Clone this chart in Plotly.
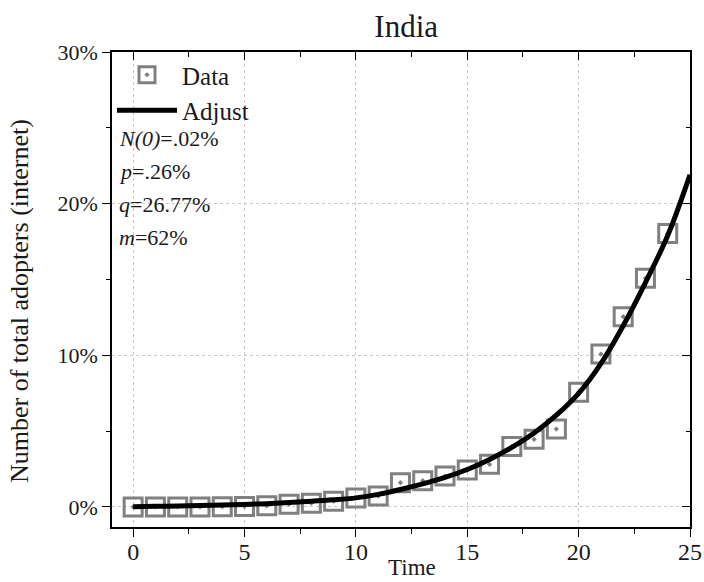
import plotly.graph_objects as go

# Data
time_data = list(range(25))
adopters_data = [0.0, 0.0, 0.0, 0.0, 0.02, 0.03, 0.08, 0.18, 0.25, 0.38, 0.6, 0.72,
                 1.6, 1.73, 2.04, 2.44, 2.81, 3.98, 4.46, 5.14, 7.56, 10.08, 12.55, 15.08, 18.04]

time_fit = list(range(26))
adopters_fit = [0.02, 0.04, 0.07, 0.10, 0.13, 0.17, 0.22, 0.29, 0.37, 0.47, 0.60, 0.83,
                1.15, 1.52, 1.95, 2.47, 3.13, 3.93, 4.88, 6.05, 7.49, 9.45, 11.95, 14.8,
                17.9, 21.9]

x_ticks = [0, 5, 10, 15, 20, 25]
x_minor = [2.5, 7.5, 12.5, 17.5, 22.5]
y_ticks = [0, 10, 20, 30]
y_minor = [5, 15, 25]
y_tick_labels = ["0%", "10%", "20%", "30%"]

params = ["<i>N(0)</i>=.02%", "<i>p</i>=.26%", "<i>q</i>=26.77%", "<i>m</i>=62%"]
y_title = "Number of total adopters (internet)"
x_title = "Time"

FONT = "Liberation Serif, Times New Roman, serif"
TXT = "#1a1a1a"
XR = [-0.95, 25.0]
YR = [-1.32, 30.0]
PLOT_H = 475
PLOT_W = 578

fig = go.Figure()
fig.add_trace(go.Scatter(
    x=time_data, y=adopters_data, mode="markers", name="Data",
    marker=dict(symbol="square-open-dot", size=18, color="#808080",
                line=dict(width=3, color="#808080")),
))
fig.add_trace(go.Scatter(
    x=time_fit, y=adopters_fit, mode="lines", name="Adjust",
    line=dict(color="black", width=5, shape="spline"),
))
# empty trace to activate mirrored axes (top/right with inward ticks)
fig.add_trace(go.Scatter(x=[], y=[], xaxis="x2", yaxis="y2", showlegend=False, hoverinfo="skip"))

for i, t in enumerate(params):
    fig.add_annotation(
        x=0.008, y=1 - (86 + i * 33) / PLOT_H, xref="paper", yref="paper",
        text=t, showarrow=False, xanchor="left", yanchor="middle",
        font=dict(family=FONT, size=22, color=TXT),
    )

# axis titles as annotations (placed as in the reference)
fig.add_annotation(
    x=(19 - 112) / PLOT_W, y=1 - (301 - 52) / PLOT_H, xref="paper", yref="paper",
    text=y_title, showarrow=False, textangle=-90, xanchor="center", yanchor="middle",
    font=dict(family=FONT, size=26, color=TXT),
)
fig.add_annotation(
    x=(412 - 112) / PLOT_W, y=1 - (567 - 52) / PLOT_H, xref="paper", yref="paper",
    text=x_title, showarrow=False, xanchor="center", yanchor="middle",
    font=dict(family=FONT, size=23, color=TXT), borderpad=0,
)

fig.update_layout(
    width=704, height=582,
    margin=dict(l=112, r=14, t=52, b=55),
    paper_bgcolor="white", plot_bgcolor="white",
    font=dict(family=FONT, color=TXT),
    title=dict(text="India", x=0.577, xanchor="center", y=0.955, yanchor="middle",
               font=dict(family=FONT, size=31, color=TXT)),
    showlegend=True,
    legend=dict(x=0.0, y=1.0, xanchor="left", yanchor="top",
                bgcolor="rgba(0,0,0,0)", font=dict(family=FONT, size=25, color=TXT),
                itemwidth=60, tracegroupgap=0),
    xaxis=dict(
        range=XR, tickvals=x_ticks, ticks="outside", ticklen=8, tickwidth=1.3,
        tickcolor="black", showline=True, linecolor="black", linewidth=1.5,
        showgrid=True, gridcolor="#c8c8c8", griddash="dot", gridwidth=1,
        zeroline=False, tickfont=dict(family=FONT, size=24, color=TXT),
        ticklabelstandoff=-6, automargin=False,
        minor=dict(tickvals=x_minor, ticks="outside", ticklen=5,
                   tickcolor="black", tickwidth=1.3, showgrid=False),
    ),
    yaxis=dict(
        range=YR, tickvals=y_ticks, ticktext=y_tick_labels, ticks="outside", ticklen=8,
        tickwidth=1.3, tickcolor="black", showline=True, linecolor="black", linewidth=1.5,
        showgrid=True, gridcolor="#c8c8c8", griddash="dot", gridwidth=1,
        zeroline=False, tickfont=dict(family=FONT, size=22, color=TXT),
        automargin=False,
        minor=dict(tickvals=y_minor, ticks="outside", ticklen=4,
                   tickcolor="black", tickwidth=1.3, showgrid=False),
    ),
    xaxis2=dict(
        range=XR, overlaying="x", side="top", anchor="y", tickvals=x_ticks,
        ticks="inside", ticklen=8, tickwidth=1.3, tickcolor="black",
        showticklabels=False, showline=True, linecolor="black", linewidth=1.5,
        showgrid=False, zeroline=False, automargin=False,
        minor=dict(tickvals=x_minor, ticks="inside", ticklen=5,
                   tickcolor="black", tickwidth=1.3, showgrid=False),
    ),
    yaxis2=dict(
        range=YR, overlaying="y", side="right", anchor="x", tickvals=y_ticks,
        ticks="inside", ticklen=8, tickwidth=1.3, tickcolor="black",
        showticklabels=False, showline=True, linecolor="black", linewidth=1.5,
        showgrid=False, zeroline=False, automargin=False,
        minor=dict(tickvals=y_minor, ticks="inside", ticklen=4,
                   tickcolor="black", tickwidth=1.3, showgrid=False),
    ),
)

fig.write_html("out.html")
